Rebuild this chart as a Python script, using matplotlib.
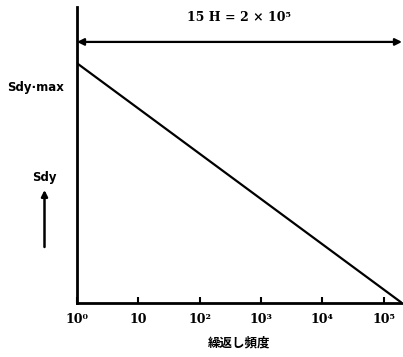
import matplotlib
matplotlib.use("Agg")
import matplotlib.pyplot as plt

plt.rcParams['font.family'] = ['DejaVu Sans', 'Noto Sans CJK JP']

# data
cycles = [1, 2e5]
sdy = [0.81, 0.0]
tick_vals = [1, 10, 1e2, 1e3, 1e4, 1e5]
tick_labels = ["10⁰", "10", "10²", "10³", "10⁴", "10⁵"]
span_label = "15 H = 2 × 10⁵"
xlabel = "繰返し頻度"

W, H = 403, 357
fig = plt.figure(figsize=(W / 100, H / 100), dpi=100)
ax = fig.add_axes([77 / W, (H - 303) / H, (402 - 77) / W, (303 - 7) / H])

ax.plot(cycles, sdy, color='black', lw=1.6)
ax.set_xscale('log')
ax.set_xlim(1, 2e5)
ax.set_ylim(0, 1)

for s in ['top', 'right']:
    ax.spines[s].set_visible(False)
for s in ['left', 'bottom']:
    ax.spines[s].set_linewidth(2)

ax.set_xticks(tick_vals)
ax.set_xticklabels(tick_labels, fontsize=9, fontweight='bold', family='DejaVu Serif')
ax.minorticks_off()
ax.tick_params(axis='x', direction='in', length=4, width=1.5, pad=7)
ax.set_yticks([])

ax.set_xlabel(xlabel, fontsize=9, fontweight='bold', family=['Noto Sans CJK JP'], labelpad=8)

# span arrow
ax.annotate('', xy=(2e5, 0.882), xytext=(1, 0.882),
            arrowprops=dict(arrowstyle='<|-|>', color='black', lw=1.6,
                            mutation_scale=10, shrinkA=0, shrinkB=0),
            annotation_clip=False)
ax.text(10 ** 2.65, 0.963, span_label, ha='center', va='center',
        fontsize=9, fontweight='bold', family='DejaVu Serif')

# y-side labels
ax.text(-0.126, (303 - 88) / 296, "Sdy·max", transform=ax.transAxes, ha='center', va='center',
        fontsize=8.5, fontweight='bold')
ax.text(-0.1, (303 - 177) / 296, "Sdy", transform=ax.transAxes, ha='center', va='center',
        fontsize=8.5, fontweight='bold')
ax.annotate('', xy=(-0.1, (303 - 190) / 296), xytext=(-0.1, (303 - 247) / 296),
            xycoords='axes fraction', textcoords='axes fraction',
            arrowprops=dict(arrowstyle='-|>', color='black', lw=1.8, mutation_scale=9,
                            shrinkA=0, shrinkB=0),
            annotation_clip=False)

fig.savefig('out.png', dpi=100)
